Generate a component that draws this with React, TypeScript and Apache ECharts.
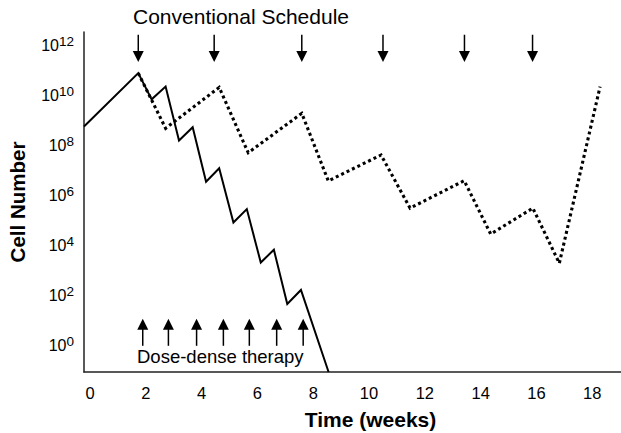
import { useEffect, useRef } from "react";
import * as echarts from "echarts";

// Axis ticks: weeks on x, powers of ten (exponents) on y
const weekTicks = [0, 2, 4, 6, 8, 10, 12, 14, 16, 18];
const exponentTicks = [0, 2, 4, 6, 8, 10, 12];

// Dose-dense therapy: tumour size (log10 cells) against time in weeks
const doseDenseWeeks = [-0.215, 1.73, 2.21, 2.71, 3.19, 3.68, 4.16, 4.63, 5.14, 5.62, 6.12, 6.59, 7.07, 7.56, 8.55];
const doseDenseLogCells = [8.77, 10.91, 9.86, 10.37, 8.21, 8.74, 6.56, 7.1, 4.92, 5.46, 3.32, 3.83, 1.66, 2.22, -1.07];

// Conventional schedule: tumour size (log10 cells) against time in weeks
const conventionalWeeks = [1.73, 2.71, 4.63, 5.67, 7.59, 8.54, 10.43, 11.47, 13.41, 14.36, 15.87, 16.82, 18.28];
const conventionalLogCells = [10.91, 8.7, 10.34, 7.72, 9.3, 6.59, 7.63, 5.5, 6.6, 4.46, 5.5, 3.29, 10.37];

// Weeks at which a dose is given
const conventionalDoseWeeks = [1.73, 4.45, 7.59, 10.5, 13.42, 15.86];
const doseDenseDoseWeeks = [1.89, 2.81, 3.82, 4.78, 5.71, 6.69, 7.64];

const FONT = "'Liberation Sans', Arial, Helvetica, sans-serif";

// Arrow extents on the log axis (tail, tip)
const DOWN_ARROW = [12.45, 11.36];
const UP_ARROW = [-0.02, 1.06];

const zip = (xs: number[], ys: number[]) => xs.map((x, i) => [x, ys[i]]);

function renderArrow(_params: any, api: any) {
  const week = api.value(0);
  const [x0, y0] = api.coord([week, api.value(1)]);
  const [x1, y1] = api.coord([week, api.value(2)]);
  const dir = y1 > y0 ? 1 : -1;
  const headLen = 11;
  const halfW = 5.5;
  const baseY = y1 - dir * headLen;
  return {
    type: "group",
    children: [
      {
        type: "line",
        shape: { x1: x0, y1: y0, x2: x1, y2: baseY + dir * 1 },
        style: { stroke: "#000", lineWidth: 1.5 },
      },
      {
        type: "polygon",
        shape: { points: [[x1 - halfW, baseY], [x1 + halfW, baseY], [x1, y1]] },
        style: { fill: "#000" },
      },
    ],
  };
}

export default function App() {
  const ref = useRef<HTMLDivElement>(null);

  useEffect(() => {
    if (!ref.current) return;
    const chart = echarts.init(ref.current, null, { renderer: "svg" });
    chart.setOption({
      animation: false,
      backgroundColor: "#fff",
      textStyle: { fontFamily: FONT },
      grid: { left: 84, right: 0, top: 32, bottom: 61, containLabel: false, outerBoundsMode: "none" },
      xAxis: {
        type: "value",
        min: -0.215,
        max: 19.03,
        name: "Time (weeks)",
        nameLocation: "middle",
        nameGap: 37,
        nameTextStyle: { fontFamily: FONT, fontSize: 21, fontWeight: "bold", color: "#000", padding: [0, 0, 0, 36] },
        axisLine: { onZero: false, lineStyle: { color: "#222", width: 1.5 } },
        axisTick: { show: false },
        splitLine: { show: false },
        axisLabel: {
          customValues: weekTicks,
          fontFamily: FONT,
          fontSize: 16.5,
          color: "#000",
          margin: 12,
        },
      },
      yAxis: {
        type: "value",
        min: -1.07,
        max: 12.56,
        name: "Cell Number",
        nameLocation: "middle",
        nameRotate: 90,
        nameGap: 56,
        nameTextStyle: { fontFamily: FONT, fontSize: 20.5, fontWeight: "bold", color: "#000" },
        axisLine: { onZero: false, lineStyle: { color: "#222", width: 1.5 } },
        axisTick: { show: false },
        splitLine: { show: false },
        axisLabel: {
          customValues: exponentTicks,
          margin: 10,
          formatter: (v: number) => `{b|10}{s|${v}}`,
          rich: {
            b: { fontFamily: FONT, fontSize: 16, color: "#000" },
            s: { fontFamily: FONT, fontSize: 13.5, color: "#000", padding: [0, 0, 8, 0] },
          },
        },
      },
      graphic: [
        {
          type: "text",
          left: 133,
          top: 6,
          style: { text: "Conventional Schedule", fontFamily: FONT, fontSize: 21, fill: "#000" },
        },
        {
          type: "text",
          left: 137,
          top: 347,
          style: { text: "Dose-dense therapy", fontFamily: FONT, fontSize: 18.5, fill: "#000" },
        },
      ],
      series: [
        {
          name: "Dose-dense",
          type: "line",
          data: zip(doseDenseWeeks, doseDenseLogCells),
          showSymbol: false,
          lineStyle: { color: "#000", width: 2, join: "miter" },
          z: 3,
        },
        {
          name: "Conventional",
          type: "line",
          data: zip(conventionalWeeks, conventionalLogCells),
          showSymbol: false,
          lineStyle: { color: "#000", width: 3.1, type: [3, 3], cap: "butt", join: "miter" },
          z: 2,
        },
        {
          name: "Conventional doses",
          type: "custom",
          renderItem: renderArrow,
          data: conventionalDoseWeeks.map((w) => [w, DOWN_ARROW[0], DOWN_ARROW[1]]),
          silent: true,
          clip: false,
        },
        {
          name: "Dose-dense doses",
          type: "custom",
          renderItem: renderArrow,
          data: doseDenseDoseWeeks.map((w) => [w, UP_ARROW[0], UP_ARROW[1]]),
          silent: true,
          clip: false,
        },
      ],
    });
    return () => chart.dispose();
  }, []);

  return <div ref={ref} style={{ position: "fixed", left: 0, top: 0, width: 621, height: 433 }} />;
}
